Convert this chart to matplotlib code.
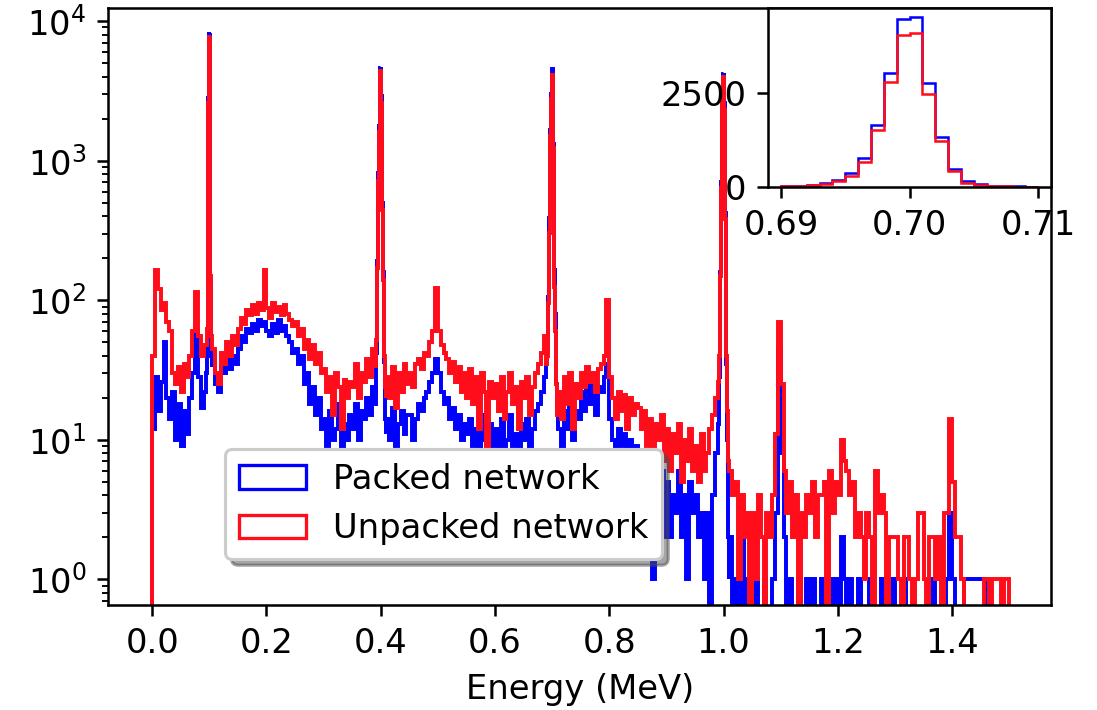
import numpy as np
import matplotlib
matplotlib.use("Agg")
import matplotlib.pyplot as plt

# Spectrum binning: 5 keV continuum bins, 1 keV bins across the sharp lines.
COARSE_WIDTH = 0.005
FINE_WIDTH = 0.001
E_MAX = 1.5

# Counts per 5 keV bin from 0 to 1.5 MeV (None = resolved in 1 keV bins below).
packed_coarse = [
    12, 28, 16, 26, 50, 20, 14, 22, 10, 18,
    9, 16, 11, 20, 30, 62, 28, 17, 22, None,
    None, 40, 25, 22, 33, 30, 38, 32, 40, 35,
    45, 55, 50, 62, 58, 68, 60, 72, 65, 70,
    60, 55, 68, 58, 72, 60, 65, 55, 50, 42,
    45, 35, 40, 25, 30, 18, 24, 15, 20, 12,
    14, 9, 16, 10, 12, 18, 8, 13, 10, 15,
    12, 18, 10, 16, 14, 20, 15, 24, None, None,
    None, None, 14, 10, 17, 9, 13, 16, 11, 15,
    15, 10, 14, 18, 16, 20, 22, 26, 30, 38,
    30, 22, 18, 20, 14, 17, 12, 15, 10, 13,
    11, 14, 9, 12, 6, 15, 10, 5, 13, 9,
    12, 8, 14, 7, 10, 15, 9, 11, 6, 13,
    10, 14, 8, 12, 16, 18, 22, 28, None, None,
    None, None, 12, 8, 16, 12, 20, 10, 16, 14,
    22, 16, 25, 18, 26, 15, 24, 22, 28, 35,
    14, 10, 8, 12, 9, 11, 6, 10, 8, 9,
    8, 5, 7, 3, 6, 1, 5, 4, 6, 2,
    5, 2, 4, 3, 6, 2, 4, 1, 5, 3,
    4, 2, 3, 1, 3, 0, 4, 8, None, None,
    None, None, 2, 0, 1, 0, 2, 0, 1, 0,
    0, 1, 0, 0, 1, 0, 0, 1, 3, 45,
    8, 2, 0, 1, 0, 0, 1, 0, 0, 1,
    0, 1, 0, 0, 1, 0, 0, 1, 0, 1,
    0, 2, 1, 0, 1, 0, 0, 1, 0, 0,
    0, 1, 0, 0, 0, 1, 0, 0, 0, 1,
    0, 0, 0, 1, 0, 0, 0, 0, 0, 0,
    0, 0, 0, 1, 0, 0, 0, 0, 1, 3,
    1, 0, 0, 0, 1, 1, 1, 1, 1, 1,
    1, 1, 0, 0, 0, 0, 0, 0, 0, 0,
]

unpacked_coarse = [
    40, 165, 120, 85, 95, 70, 60, 30, 25, 33,
    22, 35, 28, 40, 60, 115, 55, 40, 48, None,
    None, 45, 30, 25, 42, 35, 50, 40, 55, 48,
    62, 75, 68, 85, 78, 92, 80, 95, 85, 165,
    88, 75, 95, 82, 90, 78, 92, 80, 72, 65,
    70, 55, 62, 45, 52, 38, 48, 35, 42, 30,
    32, 22, 28, 15, 30, 24, 12, 27, 20, 26,
    24, 35, 20, 30, 26, 38, 28, 45, None, None,
    None, None, 28, 20, 33, 17, 30, 22, 35, 25,
    30, 24, 35, 38, 32, 42, 40, 50, 60, 122,
    60, 48, 42, 38, 30, 36, 26, 33, 22, 30,
    20, 32, 18, 28, 12, 30, 22, 9, 26, 20,
    25, 16, 28, 14, 22, 30, 18, 24, 12, 26,
    20, 28, 15, 24, 30, 35, 42, 55, None, None,
    None, None, 22, 14, 28, 18, 30, 12, 25, 20,
    30, 24, 33, 26, 30, 22, 32, 35, 40, 100,
    28, 20, 14, 22, 16, 21, 12, 20, 15, 18,
    17, 12, 16, 9, 14, 6, 13, 10, 15, 7,
    12, 6, 11, 8, 13, 5, 10, 7, 12, 6,
    9, 5, 11, 6, 8, 12, 15, 20, None, None,
    None, None, 6, 4, 5, 1, 4, 2, 3, 0,
    3, 1, 4, 2, 0, 3, 2, 4, 11, 70,
    25, 6, 3, 5, 2, 4, 0, 3, 2, 4,
    3, 5, 2, 4, 4, 5, 0, 6, 3, 5,
    4, 10, 7, 6, 4, 5, 2, 3, 2, 1,
    3, 2, 0, 6, 3, 4, 3, 0, 2, 2,
    2, 1, 0, 2, 2, 1, 0, 1, 3, 3,
    1, 0, 2, 2, 1, 2, 0, 3, 3, 14,
    5, 2, 2, 1, 0, 0, 0, 0, 0, 0,
    0, 1, 1, 0, 1, 1, 1, 0, 1, 1,
]

# Line windows in 1 keV bins: start energy (MeV) of each window.
line_starts = [0.095, 0.390, 0.690, 0.990]

packed_lines = [
    [30, 48, 240, 2800, 8300, 7900, 1200, 140, 40, 33],
    [18, 26, 42, 95, 190, 400, 820, 1760, 3200, 4600,
     4650, 2900, 1400, 500, 160, 70, 36, 20, 14, 11],
    [35, 44, 60, 105, 200, 385, 780, 1650, 3025, 4455,
     4500, 2745, 1325, 490, 165, 80, 45, 25, 25, 18],
    [9, 13, 28, 70, 160, 330, 700, 1550, 2900, 4200,
     4250, 2600, 1250, 420, 120, 35, 10, 4, 2, 1],
]

unpacked_lines = [
    [48, 62, 260, 2600, 8000, 7600, 1100, 150, 55, 45],
    [34, 40, 52, 90, 170, 330, 720, 1600, 2950, 4350,
     4400, 2600, 1300, 440, 140, 62, 40, 30, 24, 20],
    [35, 40, 55, 95, 165, 305, 675, 1510, 2780, 4035,
     4080, 2475, 1230, 420, 125, 60, 40, 25, 20, 15],
    [20, 26, 40, 75, 150, 290, 640, 1420, 2650, 3950,
     4000, 2300, 1100, 380, 110, 40, 16, 9, 7, 6],
]

ZOOM_LINE = 2  # the 0.70 MeV line shown in the inset


def assemble(coarse, lines):
    """Merge continuum bins and line bins into one edges/counts pair."""
    bins = []
    for i, c in enumerate(coarse):
        if c is not None:
            bins.append((round(i * COARSE_WIDTH, 6), round((i + 1) * COARSE_WIDTH, 6), c))
    for start, counts in zip(line_starts, lines):
        for j, c in enumerate(counts):
            lo = round(start + j * FINE_WIDTH, 6)
            bins.append((lo, round(lo + FINE_WIDTH, 6), c))
    bins.sort()
    edges = np.array([b[0] for b in bins] + [bins[-1][1]])
    counts = np.array([b[2] for b in bins], dtype=float)
    return edges, counts


plt.rcParams["font.family"] = "DejaVu Sans"
plt.rcParams["font.size"] = 10.7

fig = plt.figure(figsize=(1097 / 227, 710 / 227), dpi=227)
ax = fig.add_axes([0.0987, 0.1479, 0.8594, 0.8404])

series = [
    ("Packed network", "blue", packed_coarse, packed_lines),
    ("Unpacked network", "#ff0d1a", unpacked_coarse, unpacked_lines),
]

for label, color, coarse, lines in series:
    edges, counts = assemble(coarse, lines)
    centers = 0.5 * (edges[:-1] + edges[1:])
    ax.hist(centers, bins=edges, weights=counts, histtype="step",
            color=color, lw=1.25, log=True, label=label)

ax.set_xlim(-0.0768, 1.573)
ax.set_ylim(0.654, 12340)
ax.set_xticks(np.arange(0, 1.41, 0.2))
ax.set_xlabel("Energy (MeV)")

leg = ax.legend(loc="center", bbox_to_anchor=(0.3556, 0.1693), shadow=True)
for h in leg.legend_handles:
    h.set_linewidth(1.05)

# Inset: linear view of the 0.70 MeV line
axin = ax.inset_axes([0.7, 0.7, 0.3, 0.3])
start = line_starts[ZOOM_LINE]
for label, color, coarse, lines in series:
    counts = np.array(lines[ZOOM_LINE], dtype=float)
    edges = np.round(start + FINE_WIDTH * np.arange(len(counts) + 1), 6)
    centers = 0.5 * (edges[:-1] + edges[1:])
    axin.hist(centers, bins=edges, weights=counts, histtype="step",
              color=color, lw=0.8)
axin.set_xlim(0.689, 0.711)
axin.set_ylim(0, 4730)
axin.set_xticks([0.69, 0.70, 0.71])
axin.set_yticks([0, 2500])

fig.savefig("out.png", dpi=227, facecolor="white")
